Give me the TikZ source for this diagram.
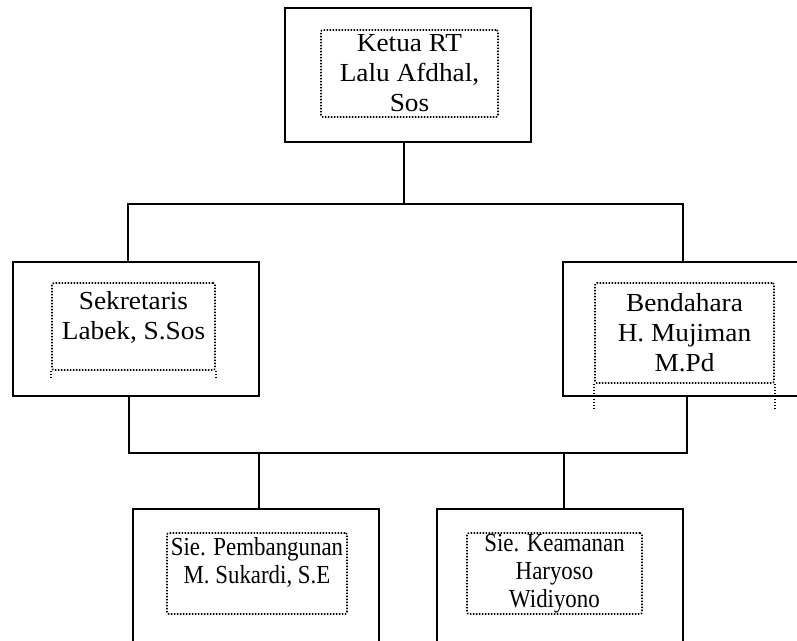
\documentclass[tikz,border=0pt]{standalone}
\usepackage{fontspec}
\setmainfont{Liberation Serif}
\newfontfamily\wideserif[FakeStretch=1.05]{Liberation Serif}
\newfontfamily\narrowserif[FakeStretch=0.88]{Liberation Serif}
\usetikzlibrary{calc}

\begin{document}
\begin{tikzpicture}[x=1pt,y=-1pt,
    outer/.style={draw,line width=1.6pt,minimum width=246pt,minimum height=134pt,inner sep=0pt},
    dotline/.style={line width=1.6pt,dash pattern=on 1.5pt off 1.5pt},
    inner/.style={draw,dotline,rounded corners=2pt,align=center,inner sep=0pt,
      font=\wideserif\fontsize{26}{30}\selectfont},
    lower/.style={inner,font=\narrowserif\fontsize{26}{28}\selectfont},
    link/.style={line width=1.6pt}]
    \clip (0,0) rectangle (797,640);
    \fill[white] (0,0) rectangle (797,640);

    % outer boxes
    \node[outer] (ketua)       at (408,75)  {};
    \node[outer] (sekretaris)  at (136,329) {};
    \node[outer] (bendahara)   at (686,329) {};
    \node[outer] (pembangunan) at (256,576) {};
    \node[outer] (keamanan)    at (560,576) {};

    % dotted text boxes
    \node[inner,minimum width=177pt,minimum height=87pt]  (ketuaT) at (409.5,73.5) {Ketua RT\\Lalu Afdhal,\\Sos};
    \node[inner,minimum width=163pt,minimum height=87pt]  (sekT)   at (133.5,326.5) {Sekretaris\\Labek, S.Sos\\[-16pt]\strut};
    \node[inner,minimum width=179pt,minimum height=100pt] (benT)   at (684.5,333) {Bendahara\\H. Mujiman\\M.Pd};
    \node[lower,minimum width=180pt,minimum height=81pt]  (pemT)   at (257,573.5) {Sie. Pembangunan\\M. Sukardi, S.E\\[-10pt]\strut};
    \node[lower,minimum width=175pt,minimum height=81pt]  (keaT)   at (554.5,573.5) {Sie. Keamanan\\Haryoso\\Widiyono};

    \draw[dotline] (sekT.south west) -- ++(0,9)  (sekT.south east) -- ++(0,9);
    \draw[dotline] (benT.south west) -- ++(0,25) (benT.south east) -- ++(0,25);

    % connectors
    \coordinate (upper) at (404,204);
    \coordinate (lower) at (408,453);
    \draw[link] ([xshift=-4pt]ketua.south) -- (upper);
    \draw[link] ([xshift=-8pt]sekretaris.north) |- (upper) -| ([xshift=-3pt]bendahara.north);
    \draw[link] ([xshift=-7pt]sekretaris.south) |- (lower) -| ([xshift=1pt]bendahara.south);
    \draw[link] ([xshift=3pt]pembangunan.north) -- ([xshift=3pt]pembangunan.north |- lower);
    \draw[link] ([xshift=4pt]keamanan.north) -- ([xshift=4pt]keamanan.north |- lower);
\end{tikzpicture}
\end{document}
